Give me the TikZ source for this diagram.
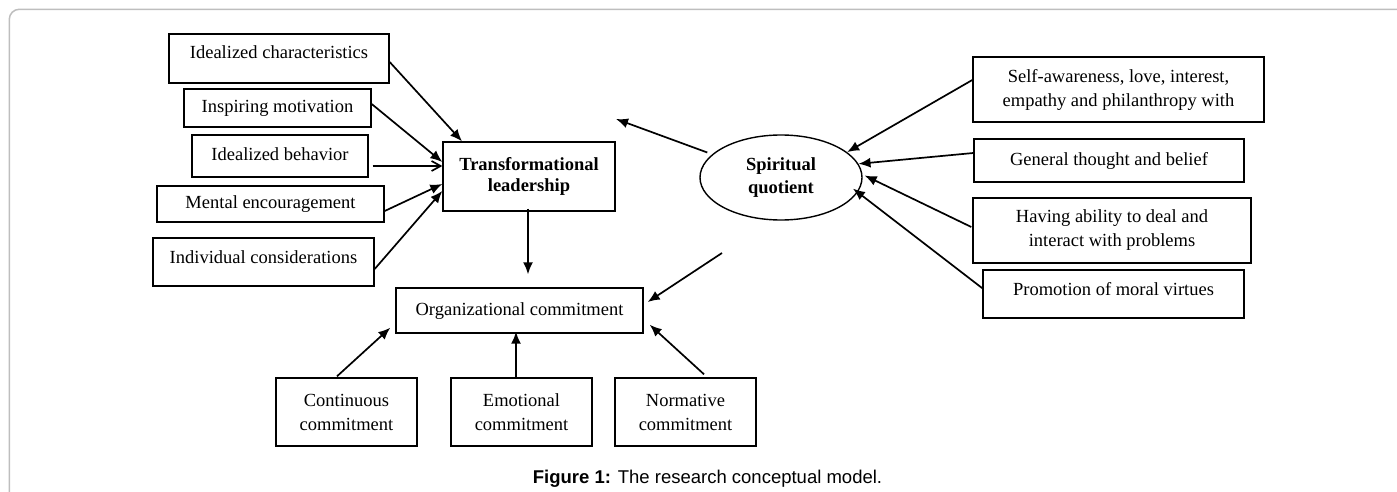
\documentclass[tikz,border=0pt]{standalone}
\usepackage{fontspec}
\setmainfont{Liberation Serif}
\newfontfamily\capfont{Liberation Sans}
\usetikzlibrary{shapes.geometric,arrows.meta}
\definecolor{framegray}{RGB}{190,190,190}
\begin{document}
\begin{tikzpicture}[x=1pt,y=-1pt,
  box/.style={draw, line width=1.4pt, inner sep=0pt, align=center,
    font=\fontsize{18.5}{24}\selectfont, text height=13pt, text depth=4pt},
  mbox/.style={draw, line width=1.4pt, inner sep=0pt, align=center,
    font=\fontsize{18.5}{24}\selectfont},
  arr/.style={line width=1.7pt, -{Latex[length=12pt,width=10pt]}},
  barb/.style={line width=1.7pt, -{Straight Barb[length=9pt,width=10pt,line width=1.7pt]}},
]
\useasboundingbox (0,0) rectangle (1397,492);
% outer frame
\draw[framegray, line width=1.5pt, rounded corners=10pt] (9.3,492) -- (9.3,9.3) -- (1397,9.3);

% left factors
\node[box, minimum width=220pt, minimum height=49pt, text depth=12pt] (ic) at (279,58.5) {Idealized characteristics};
\node[box, minimum width=187pt, minimum height=38pt] (im) at (277.5,108) {Inspiring motivation};
\node[box, minimum width=176pt, minimum height=42pt] (ib) at (280,156) {Idealized behavior};
\node[box, minimum width=227pt, minimum height=36pt] (me) at (270.5,204) {Mental encouragement};
\node[box, minimum width=221pt, minimum height=48pt, text depth=11pt] (ics) at (263.5,262) {Individual considerations};

% central constructs
\node[mbox, minimum width=172pt, minimum height=69pt, font=\fontsize{18.5}{20.5}\selectfont\bfseries] (tl) at (529,176.5) {Transformational\\leadership};
\node[box, minimum width=247pt, minimum height=45pt] (oc) at (519.5,310.5) {Organizational commitment};
\node[draw, ellipse, line width=1.4pt, inner sep=0pt, minimum width=162pt, minimum height=85pt, align=center,
  font=\fontsize{18.5}{23.4}\selectfont\bfseries] (sq) at (781,177.5) {Spiritual\\quotient};

% commitment types
\node[mbox, minimum width=141pt, minimum height=68pt] (cc) at (346.5,412) {Continuous\\commitment};
\node[mbox, minimum width=141pt, minimum height=68pt] (ec) at (521.5,412) {Emotional\\commitment};
\node[mbox, minimum width=141pt, minimum height=68pt] (nc) at (685.5,412) {Normative\\commitment};

% right factors
\node[mbox, minimum width=291pt, minimum height=65pt] (sa) at (1118.5,89.5) {Self-awareness, love, interest,\\empathy and philanthropy with};
\node[box, minimum width=270pt, minimum height=43pt] (gt) at (1109,160.5) {General thought and belief};
\node[mbox, minimum width=278pt, minimum height=65pt] (ha) at (1112,230.5) {Having ability to deal and\\interact with problems};
\node[box, minimum width=261pt, minimum height=48pt, text depth=11pt] (pm) at (1113.5,294) {Promotion of moral virtues};

% free ends
\coordinate (sqfree) at (616,119);
\coordinate (ocfree) at (722,253);

% connectors
\draw[arr] ([yshift=-3.5pt]ic.east) -- ([xshift=-67pt]tl.north);
\draw[arr] ([yshift=4pt]im.east) -- ([yshift=14.5pt]tl.west);
\draw[barb] ([xshift=4pt,yshift=-10pt]ib.east) -- ([yshift=10.5pt]tl.west);
\draw[arr] ([yshift=-7pt]me.east) -- ([yshift=-7.5pt]tl.west);
\draw[arr] ([yshift=-7pt]ics.east) -- ([yshift=-14.5pt]tl.west);
\draw[arr] ([xshift=-1pt,yshift=3pt]tl.south) -- ([xshift=8.5pt,yshift=13pt]oc.north);
\draw[arr] ([xshift=8pt,yshift=25pt]sq.west) -- (sqfree);
\draw[arr] (ocfree) -- ([xshift=4pt,yshift=8.5pt]oc.east);
\draw[arr] ([xshift=-9.5pt,yshift=1pt]cc.north) -- ([xshift=-5pt,yshift=6pt]oc.south west);
\draw[arr] ([xshift=-5.5pt]ec.north) -- ([xshift=-3.5pt,yshift=2pt]oc.south);
\draw[arr] ([xshift=18.5pt,yshift=3pt]nc.north) -- ([xshift=6pt,yshift=9pt]oc.south east);
\draw[arr] ([yshift=9.5pt]sa.west) -- (sq.21);
\draw[arr] ([yshift=7.5pt]gt.west) -- (sq.10);
\draw[arr] ([xshift=-1pt,yshift=3.5pt]ha.west) -- ([xshift=2pt,yshift=2pt]sq.east);
\draw[arr] ([xshift=1pt,yshift=5pt]pm.west) -- ([xshift=-7pt]sq.-8);

% caption
\node[anchor=base, inner sep=0pt, font=\capfont\fontsize{18.5}{22}\selectfont] (cap) at (707.5,483)
  {\textbf{Figure 1:} The research conceptual model.};
\end{tikzpicture}
\end{document}
